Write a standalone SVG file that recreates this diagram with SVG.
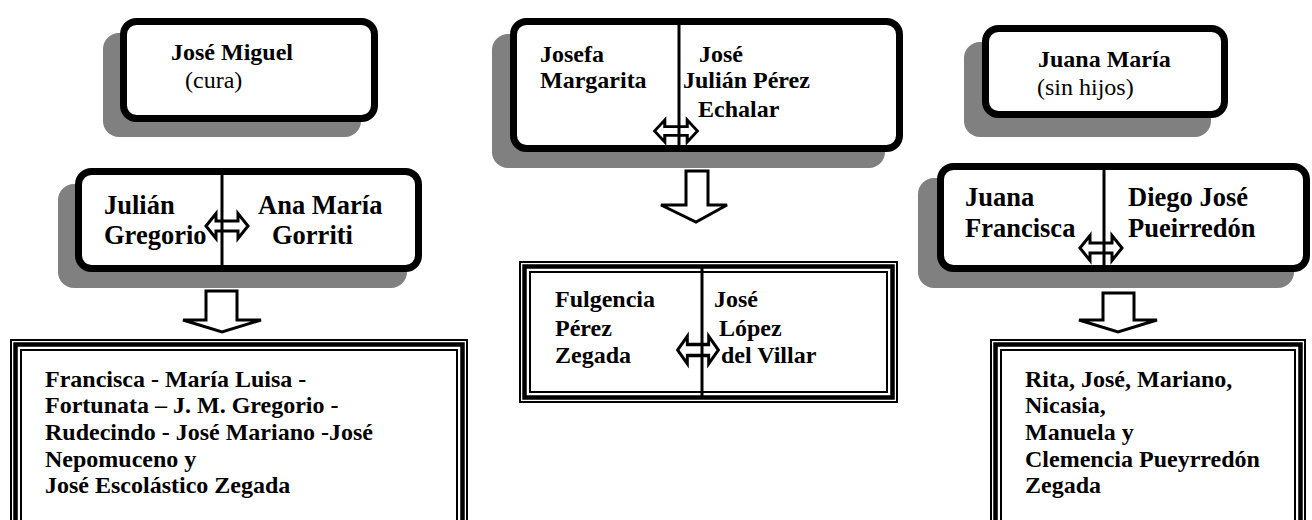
<svg xmlns="http://www.w3.org/2000/svg" width="1312" height="520" viewBox="0 0 1312 520">
<style>
.sh{fill:#808080;}
.rb{fill:#ffffff;stroke:#000;stroke-width:7;}
.dv{stroke:#000;stroke-width:3;}
.t{font-family:"Liberation Serif","Times New Roman",serif;font-size:24px;fill:#000;}
.b{font-weight:bold;}
.big{font-size:26.5px;}
.tb1{fill:#fff;stroke:#000;stroke-width:2;}
.tb2{fill:none;stroke:#000;stroke-width:4.5;}
.tb3{fill:none;stroke:#000;stroke-width:2;}
.lr{fill:none;stroke:#000;stroke-width:3;stroke-linejoin:miter;}
.da{fill:#fff;stroke:#000;stroke-width:3;stroke-linejoin:miter;}
</style>
<defs>
<path id="lr" d="M-21,0 L-11,-12.5 L-11,-5 L11,-5 L11,-12.5 L21,0 L11,12.5 L11,5 L-11,5 L-11,12.5 Z"/>
</defs>
<rect width="1312" height="520" fill="#fff"/>

<g id="jose-miguel">
<rect class="sh" x="103" y="33" width="258" height="104" rx="16"/>
<rect class="rb" x="123.5" y="21.5" width="251" height="97" rx="13"/>
<text class="t b" x="171" y="60">José Miguel</text>
<text class="t" x="185" y="88">(cura)</text>
</g>

<g id="josefa-jose-julian">
<rect class="sh" x="492" y="34" width="393" height="134" rx="16"/>
<rect class="rb" x="513.5" y="21.5" width="386" height="127" rx="13"/>
<line class="dv" x1="679" y1="20" x2="679" y2="150"/>
<text class="t b" x="540" y="62">Josefa</text>
<text class="t b" x="540" y="88">Margarita</text>
<text class="t b" x="699" y="62">José</text>
<text class="t b" x="683" y="88">Julián Pérez</text>
<text class="t b" x="698" y="117">Echalar</text>
</g>

<g id="juana-maria">
<rect class="sh" x="964" y="42" width="247" height="95" rx="16"/>
<rect class="rb" x="985.5" y="28.5" width="239" height="86" rx="13"/>
<text class="t b" x="1038" y="67">Juana María</text>
<text class="t" x="1037" y="95">(sin hijos)</text>
</g>

<g id="julian-ana-maria">
<rect class="sh" x="58" y="184" width="349" height="104" rx="16"/>
<rect class="rb" x="78.5" y="171.5" width="340" height="97" rx="13"/>
<line class="dv" x1="222" y1="170" x2="222" y2="270"/>
<text class="t b big" x="104" y="214">Julián</text>
<text class="t b big" x="104" y="244">Gregorio</text>
<text class="t b big" x="258" y="214">Ana María</text>
<text class="t b big" x="272" y="244">Gorriti</text>
</g>

<g id="juana-francisca-diego">
<rect class="sh" x="918" y="178" width="376" height="110" rx="16"/>
<rect class="rb" x="940.5" y="166.5" width="366" height="102" rx="13"/>
<line class="dv" x1="1104" y1="165" x2="1104" y2="270"/>
<text class="t b big" x="965" y="206">Juana</text>
<text class="t b big" x="965" y="237">Francisca</text>
<text class="t b big" x="1128" y="206">Diego José</text>
<text class="t b big" x="1128" y="237">Pueirredón</text>
</g>

<g id="fulgencia-jose-lopez">
<rect class="tb1" x="520" y="262" width="377" height="140"/>
<rect class="tb2" x="524.5" y="266.5" width="368" height="131"/>
<rect class="tb3" x="530" y="272" width="357" height="120"/>
<line class="dv" x1="702" y1="267" x2="702" y2="399"/>
<text class="t b" x="555" y="307">Fulgencia</text>
<text class="t b" x="555" y="336">Pérez</text>
<text class="t b" x="555" y="363">Zegada</text>
<text class="t b" x="714" y="307">José</text>
<text class="t b" x="719" y="336">López</text>
<text class="t b" x="721" y="363">del Villar</text>
</g>

<g id="hijos-julian">
<rect class="tb1" x="11" y="340" width="456" height="200"/>
<rect class="tb2" x="15.5" y="344.5" width="447" height="200"/>
<rect class="tb3" x="21" y="350" width="436" height="200"/>
<text class="t b" x="45" y="387">Francisca - María Luisa -</text>
<text class="t b" x="45" y="413">Fortunata – J. M. Gregorio -</text>
<text class="t b" x="45" y="440">Rudecindo - José Mariano -José</text>
<text class="t b" x="45" y="467">Nepomuceno  y</text>
<text class="t b" x="45" y="493">José Escolástico Zegada</text>
</g>

<g id="hijos-juana-francisca">
<rect class="tb1" x="991" y="340" width="314" height="200"/>
<rect class="tb2" x="995.5" y="344.5" width="305" height="200"/>
<rect class="tb3" x="1001" y="350" width="294" height="200"/>
<text class="t b" x="1025" y="387">Rita, José, Mariano,</text>
<text class="t b" x="1025" y="413">Nicasia,</text>
<text class="t b" x="1025" y="440">Manuela y</text>
<text class="t b" x="1025" y="467">Clemencia Pueyrredón</text>
<text class="t b" x="1025" y="493">Zegada</text>
</g>

<g id="connectors">
<use href="#lr" class="lr" transform="translate(227,226)"/>
<use href="#lr" class="lr" transform="translate(676,131) scale(1.02,0.88)"/>
<use href="#lr" class="lr" transform="translate(1101,248)"/>
<use href="#lr" class="lr" transform="translate(698,350) scale(0.97,1.1)"/>
<path class="da" d="M206,291 L237,291 L237,320 L261,320 L222,332 L183,320 L206,320 Z"/>
<path class="da" d="M686,171 L708,171 L708,205 L727,205 L696,222 L661,205 L686,205 Z"/>
<path class="da" d="M1103,293 L1134,293 L1134,320 L1157,320 L1118,332 L1079,320 L1103,320 Z"/>
</g>
</svg>
